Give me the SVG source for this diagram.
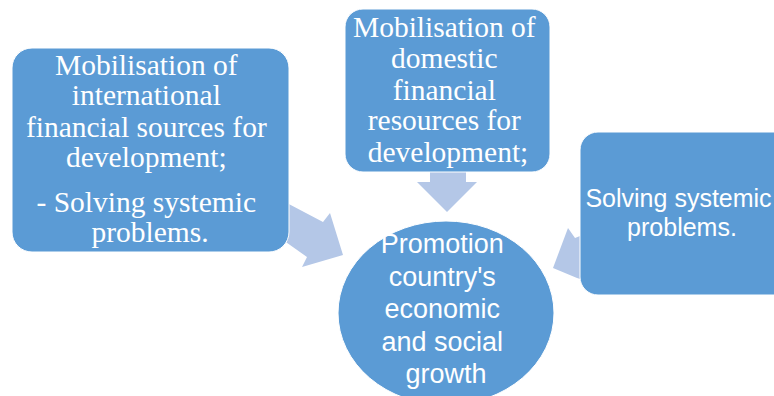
<svg xmlns="http://www.w3.org/2000/svg" width="774" height="396" viewBox="0 0 774 396">
<style>
.box{fill:#5B9BD5;stroke:#FFFFFF;stroke-width:1}
.arrow{fill:#B4C7E7;stroke:none}
.serif{font-family:"Liberation Serif","Times New Roman",serif;font-size:29.5px;fill:#FFFFFF;text-anchor:middle}
.sans{font-family:"Liberation Sans",Arial,sans-serif;fill:#FFFFFF;text-anchor:middle}
</style>
<rect width="774" height="396" fill="#FFFFFF"/>
<g id="connectors">
<polygon class="arrow" points="266,192 323,222 330,213 343,255 302,267 307,257 266,228"/>
<polygon class="arrow" points="430,168 466,168 466,182 477,182 447,212 417,182 430,182"/>
<polygon class="arrow" points="568,228 575,238 600,228 600,285 577,278 553,268"/>
</g>
<g id="node-international">
<rect class="box" x="12" y="48" width="277" height="204" rx="20" ry="20"/>
<text class="serif">
<tspan x="150" y="75">Mobilisation of</tspan>
<tspan x="150" y="105">international</tspan>
<tspan x="150" y="137">financial sources for</tspan>
<tspan x="150" y="167">development;</tspan>
<tspan x="150" y="212">- Solving systemic</tspan>
<tspan x="150" y="242">problems.</tspan>
</text>
</g>
<g id="node-domestic">
<rect class="box" x="345" y="9" width="205" height="163" rx="18" ry="18"/>
<text class="serif">
<tspan x="448" y="37">Mobilisation of</tspan>
<tspan x="448" y="68">domestic</tspan>
<tspan x="448" y="100">financial</tspan>
<tspan x="448" y="130">resources for</tspan>
<tspan x="448" y="162">development;</tspan>
</text>
</g>
<g id="node-systemic">
<rect class="box" x="580" y="132" width="214" height="163" rx="18" ry="18"/>
<text class="sans" font-size="25">
<tspan x="682" y="207">Solving systemic</tspan>
<tspan x="682" y="236">problems.</tspan>
</text>
</g>
<g id="node-growth">
<ellipse class="box" cx="446" cy="313" rx="108" ry="92"/>
<text class="sans" font-size="27">
<tspan x="446" y="253">Promotion</tspan>
<tspan x="446" y="286">country's</tspan>
<tspan x="446" y="318">economic</tspan>
<tspan x="446" y="351">and social</tspan>
<tspan x="446" y="383">growth</tspan>
</text>
</g>
</svg>
